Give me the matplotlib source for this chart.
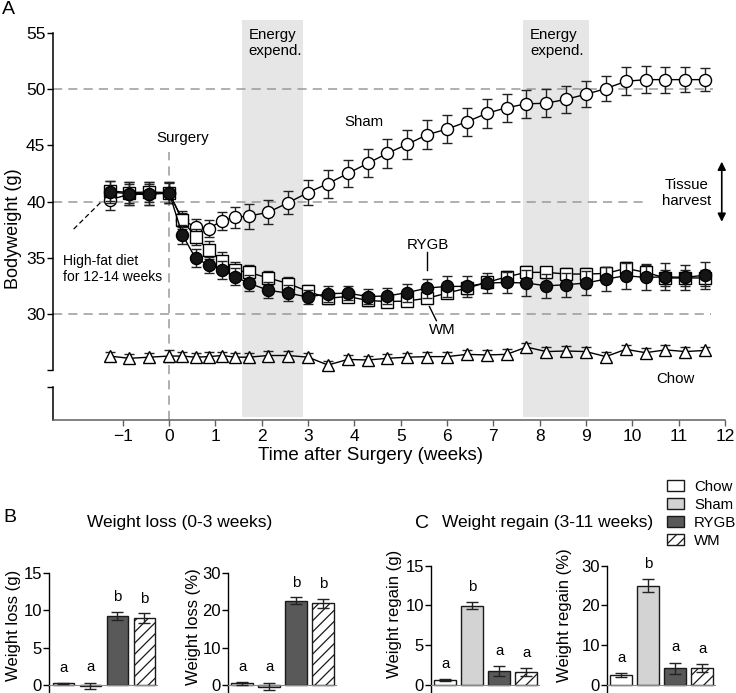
import matplotlib
matplotlib.use("Agg")
import matplotlib.pyplot as plt
from matplotlib.patches import Rectangle, Patch
import numpy as np

plt.rcParams['font.family'] = ['Liberation Sans', 'DejaVu Sans']
plt.rcParams['hatch.linewidth'] = 0.9

# ---- panel A data: bodyweight (g) over time ----
days = [-9, -6, -3, 0, 2, 4, 6, 8, 10, 12, 15, 18, 21, 24, 27, 30, 33, 36, 39,
        42, 45, 48, 51, 54, 57, 60, 63, 66, 69, 72, 75, 78, 81]

sham = [40.15, 40.65, 40.65, 40.75, 38.4, 37.7, 37.6, 38.3, 38.6, 38.7,
        39.05, 39.9, 40.8, 41.6, 42.5, 43.4, 44.3, 45.1, 45.95, 46.45, 47.1, 47.85,
        48.35, 48.7, 48.75, 49.1, 49.55, 50.05, 50.7, 50.85, 50.85, 50.85, 50.85]
sham_err = [0.9, 0.95, 0.95, 0.9, 0.8, 0.75, 0.75, 0.8, 0.95, 1.1,
            1.05, 1.05, 1.15, 1.25, 1.2, 1.25, 1.3, 1.3, 1.3, 1.25, 1.25, 1.3,
            1.25, 1.25, 1.25, 1.2, 1.15, 1.1, 1.25, 1.2, 1.15, 1.1, 1.05]

rygb = [40.85, 40.7, 40.7, 40.8, 37.05, 34.95, 34.35, 33.9, 33.3, 32.75,
        32.1, 31.85, 31.5, 31.8, 31.85, 31.55, 31.6, 31.9, 32.3, 32.45, 32.45, 32.75,
        32.8, 32.75, 32.5, 32.6, 32.75, 33.1, 33.4, 33.25, 33.3, 33.25, 33.45]
rygb_err = [0.95, 1.0, 1.0, 0.95, 0.85, 0.8, 0.7, 0.8, 0.75, 0.75,
            0.7, 0.7, 0.65, 0.7, 0.65, 0.7, 0.7, 0.8, 0.85, 0.9, 0.9, 0.85,
            0.95, 1.15, 1.05, 1.05, 1.1, 1.05, 1.15, 1.15, 1.2, 1.1, 1.2]

wm = [40.95, 40.8, 40.85, 40.8, 38.35, 36.85, 35.65, 34.75, 33.9, 33.7,
      33.2, 32.7, 32.0, 31.4, 31.55, 31.2, 31.1, 31.15, 31.4, 31.85, 32.3, 32.8,
      33.3, 33.7, 33.7, 33.55, 33.55, 33.6, 34.05, 33.7, 33.2, 33.2, 33.2]
wm_err = [0.9, 0.9, 0.9, 0.9, 0.6, 0.75, 0.8, 0.75, 0.7, 0.65,
          0.6, 0.6, 0.55, 0.5, 0.5, 0.5, 0.45, 0.45, 0.45, 0.45, 0.5, 0.5,
          0.55, 0.55, 0.5, 0.5, 0.5, 0.55, 0.6, 0.65, 0.7, 0.7, 0.7]

chow = [26.25, 26.05, 26.15, 26.25, 26.25, 26.15, 26.2, 26.3, 26.15, 26.15,
        26.3, 26.3, 26.15, 25.45, 25.95, 25.9, 26.05, 26.15, 26.2, 26.2, 26.4, 26.35,
        26.4, 27.05, 26.65, 26.7, 26.65, 26.2, 26.85, 26.55, 26.8, 26.65, 26.75]
chow_err = [0.35, 0.35, 0.35, 0.55, 0.4, 0.4, 0.4, 0.35, 0.4, 0.4,
            0.4, 0.4, 0.35, 0.4, 0.4, 0.4, 0.35, 0.35, 0.4, 0.4, 0.4, 0.45,
            0.45, 0.4, 0.4, 0.45, 0.4, 0.45, 0.35, 0.4, 0.4, 0.4, 0.35]

energy_periods = [(1.58, 2.88), (7.65, 9.07)]

# ---- panels B/C data ----
groups = ['Chow', 'Sham', 'RYGB', 'WM']
loss_g = [0.2, -0.15, 9.28, 8.97]
loss_g_err = [0.1, 0.45, 0.55, 0.65]
loss_pct = [0.5, -0.35, 22.5, 21.8]
loss_pct_err = [0.5, 0.9, 0.9, 1.2]
regain_g = [0.62, 9.95, 1.75, 1.6]
regain_g_err = [0.1, 0.45, 0.6, 0.5]
regain_pct = [2.4, 25.0, 4.2, 4.2]
regain_pct_err = [0.5, 1.6, 1.4, 1.0]
letters_loss = ['a', 'a', 'b', 'b']
letters_regain = ['a', 'b', 'a', 'a']

bar_colors = ['white', '#d3d3d3', '#595959', 'white']
bar_hatch = [None, None, None, '///']

W, H = 736, 693
fig = plt.figure(figsize=(W / 100, H / 100), dpi=100)


def px_axes(left, top, right, bottom):
    return fig.add_axes([left / W, 1 - bottom / H, (right - left) / W, (bottom - top) / H])


# ================= panel A =================
ax = px_axes(53.3, 33, 725, 420)
weeks = np.array(days) / 7.0
ax.set_xlim(-2.5, 12)
ax.set_ylim(20.56, 55)

for x0, x1 in energy_periods:
    ax.add_patch(Rectangle((x0, 20.85), x1 - x0, 56.2 - 20.85, facecolor='#e6e6e6',
                           edgecolor='none', zorder=0, clip_on=False))
    ax.text(x0 + 0.14, 55.45, 'Energy\nexpend.', fontsize=10.8, ha='left', va='top')

dash_kw = dict(color='#9a9a9a', lw=1.1, linestyle=(0, (6, 4)), zorder=1)
ax.hlines(50, -2.5, 11.75, **dash_kw)
ax.hlines(40, -2.5, 10.27, **dash_kw)
ax.hlines(30, -2.5, 11.7, **dash_kw)
ax.vlines(0, 20.56, 44.4, **dash_kw)

common = dict(color='black', lw=1, ms=8.7, mew=1, mec='black', ecolor='#222222',
              elinewidth=1, capsize=3.6, capthick=1)
ax.errorbar(weeks, sham, yerr=sham_err, fmt='-o', mfc='white', zorder=3, **common)
ax.errorbar(weeks, chow, yerr=chow_err, fmt='-^', mfc='white', zorder=3, **common)
ax.errorbar(weeks, wm, yerr=wm_err, fmt='-s', mfc='white', zorder=4, **common)
ax.errorbar(weeks, rygb, yerr=rygb_err, fmt='-o', mfc='#151515', zorder=5, **common)

# annotations
ax.text(0.3, 45.7, 'Surgery', fontsize=10.8, ha='center', va='center')
ax.text(3.78, 47.1, 'Sham', fontsize=10.8, ha='left', va='center')
ax.text(11.18, 40.77, 'Tissue\nharvest', fontsize=10.8, ha='center', va='center',
        multialignment='center')
ax.annotate('', xy=(11.93, 38.2), xytext=(11.93, 43.55),
            arrowprops=dict(arrowstyle='<|-|>', color='black', lw=1.2,
                            mutation_scale=12, shrinkA=0, shrinkB=0))
ax.text(5.59, 36.15, 'RYGB', fontsize=10.8, ha='center', va='center')
ax.plot([5.56, 5.56], [35.5, 33.9], color='black', lw=1)
ax.text(5.9, 28.55, 'WM', fontsize=10.8, ha='center', va='center')
ax.plot([5.62, 5.77], [30.65, 29.4], color='black', lw=1)
ax.text(10.92, 24.2, 'Chow', fontsize=10.8, ha='center', va='center')
ax.text(-2.29, 34.03, 'High-fat diet\nfor 12-14 weeks', fontsize=10, ha='left',
        va='center', multialignment='left')
ax.plot([-2.06, -1.46], [37.55, 40.0], color='black', lw=0.9, linestyle=(0, (4, 2.5)))

# axes styling with broken y axis
for s in ['top', 'right']:
    ax.spines[s].set_visible(False)
ax.spines['left'].set_bounds(25, 55)
ax.spines['left'].set_linewidth(1.1)
ax.spines['bottom'].set_color('#606060')
ax.spines['bottom'].set_linewidth(1.1)
ax.plot([0, 0], [20.56, 23.47], transform=ax.get_yaxis_transform(), color='black',
        lw=1.1, clip_on=False)
ax.set_yticks([23.47, 25, 30, 35, 40, 45, 50, 55])
ax.set_yticklabels(['', '', '30', '35', '40', '45', '50', '55'])
ax.set_xticks(range(-1, 13))
ax.tick_params(axis='both', labelsize=12.5, length=4.5, width=1, pad=1.2)
ax.tick_params(axis='x', color='#606060', pad=2)
ax.set_xlabel('Time after Surgery (weeks)', fontsize=13.5)
ax.xaxis.set_label_coords(0.4715, -0.07)
ax.set_ylabel('Bodyweight (g)', fontsize=13)
ax.yaxis.set_label_coords(-0.047, 0.494)

fig.text(0.002, 1 - 9 / H, 'A', fontsize=14, va='center', ha='left')


# ================= panels B and C =================
def bar_panel(left, top, bottom, ymax, vals, errs, letters, ylabel, lab_x, lab_top):
    bax = px_axes(left, top, left + 108, bottom)
    x = np.arange(len(vals))
    for i in x:
        bax.bar(i, vals[i], width=0.8, color=bar_colors[i], edgecolor='#1a1a1a',
                linewidth=1, hatch=bar_hatch[i], zorder=2)
    bax.errorbar(x, vals, yerr=errs, fmt='none', ecolor='#222222', elinewidth=1,
                 capsize=4.2, capthick=1, zorder=3)
    for i in x:
        bax.text(i, max(vals[i], 0) + errs[i] + 0.13 * ymax, letters[i], fontsize=10.8,
                 ha='center', va='center')
    bax.set_xlim(-0.52, 3.48)
    bax.set_ylim(-ymax / 7.5, ymax)
    ticks = [0, ymax / 3, 2 * ymax / 3, ymax]
    bax.set_yticks(ticks)
    bax.set_yticklabels([f'{v:g}' for v in ticks])
    bax.set_xticks([])
    for s in ['top', 'right']:
        bax.spines[s].set_visible(False)
    bax.spines['bottom'].set_position(('data', 0))
    bax.spines['bottom'].set_color('#8a8a8a')
    bax.spines['left'].set_linewidth(1)
    bax.tick_params(axis='y', labelsize=12, length=4, width=1, pad=1.2)
    bax.set_ylabel(ylabel, fontsize=12, ha='right')
    bax.yaxis.set_label_coords((lab_x - left) / 108, (bottom - lab_top) / (bottom - top))
    return bax


bar_panel(49.3, 573, 699.9, 15, loss_g, loss_g_err, letters_loss, 'Weight loss (g)', 21, 570)
bar_panel(228, 572.7, 700.3, 30, loss_pct, loss_pct_err, letters_loss, 'Weight loss (%)', 201, 568)
bar_panel(431, 565.7, 700.9, 15, regain_g, regain_g_err, letters_regain, 'Weight regain (g)', 402, 550)
bar_panel(607, 565.7, 700.9, 30, regain_pct, regain_pct_err, letters_regain, 'Weight regain (%)', 572, 548)

fig.text(3 / W, 1 - 517 / H, 'B', fontsize=14, va='center', ha='left')
fig.text(180 / W, 1 - 522 / H, 'Weight loss (0-3 weeks)', fontsize=12.5, ha='center', va='center')
fig.text(415 / W, 1 - 524 / H, 'C', fontsize=14, va='center', ha='left')
fig.text(548 / W, 1 - 523 / H, 'Weight regain (3-11 weeks)', fontsize=12.5, ha='center', va='center')

handles = [Patch(facecolor=bar_colors[i], edgecolor='#1a1a1a', hatch=bar_hatch[i], lw=1)
           for i in range(len(groups))]
fig.legend(handles, groups, loc='upper left', bbox_to_anchor=(667 / W, 1 - 480 / H),
           frameon=False, fontsize=10.8, handlelength=1.1, handleheight=0.75,
           handletextpad=0.7, labelspacing=0.26, borderpad=0, borderaxespad=0)

fig.savefig('out.png', dpi=100)
